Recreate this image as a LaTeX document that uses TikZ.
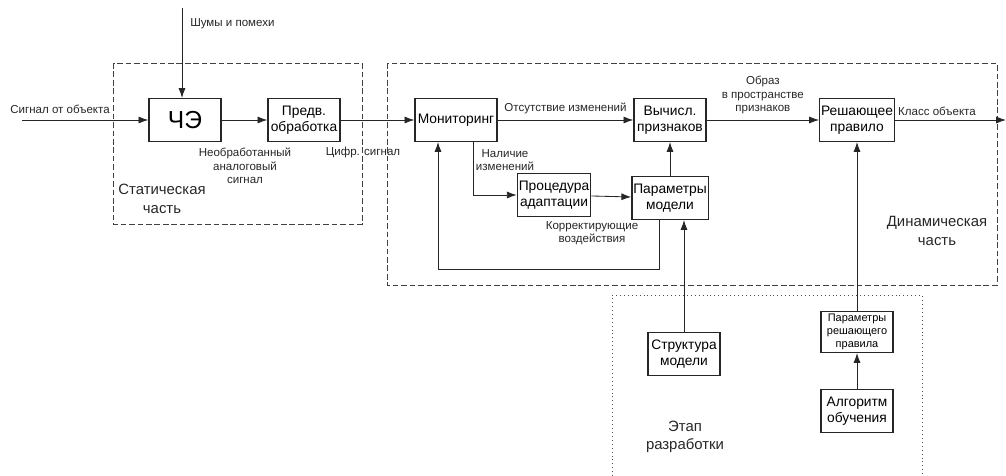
\documentclass[tikz,border=0pt]{standalone}
\usepackage{fontspec}
\setmainfont{Liberation Sans}
\usetikzlibrary{arrows.meta,positioning}

\begin{document}
\begin{tikzpicture}[x=0.025cm, y=-0.025cm,
    block/.style={draw=black!85, line width=0.9pt, align=center, inner sep=1pt,
        minimum width=1.8cm, minimum height=1.07cm, font=\fontsize{9.8}{11.5}\selectfont},
    lbl/.style={align=center, inner sep=0pt, text=black!85, font=\fontsize{8.2}{9.6}\selectfont},
    part/.style={align=center, inner sep=0pt, text=black!85, font=\fontsize{10.6}{13}\selectfont},
    sig/.style={-{Latex[length=7pt,width=5pt]}, line width=0.6pt, draw=black!85},
    zone/.style={draw=black!75, line width=0.6pt, dash pattern=on 4pt off 2pt}
]
\useasboundingbox (0,0) rectangle (1006,475);

% Zones
\draw[zone] (113,63) rectangle (362,224);
\draw[zone] (387,63) rectangle (997,285);
\draw[draw=black!70, line width=0.6pt, dash pattern=on 0.6pt off 2.2pt]
    (612,480) |- (922,295) -- (922,480);

% Blocks
\node[block] (che) at (185,120) {\fontsize{17.5}{20}\selectfont ЧЭ};
\node[block] (pre) at (304,120) {Предв.\\обработка};
\node[block, minimum width=2.05cm] (mon) at (456,120) {Мониторинг};
\node[block] (calc) at (670,120) {Вычисл.\\признаков};
\node[block] (adapt) at (554,195) {Процедура\\адаптации};
\node[block] (param) at (670,198) {Параметры\\модели};
\node[block] (rule) at (857,120) {Решающее\\правило};
\node[block] (struct) at (684,354) {Структура\\модели};
\node[block, minimum height=1.02cm, font=\fontsize{7.8}{9}\selectfont] (rparam) at (857,332) {Параметры\\решающего\\правила};
\node[block] (algo) at (857,411) {Алгоритм\\обучения};

% Input and noise
\coordinate (src) at (22,120);
\coordinate (noise) at (182,8);
\draw[sig] (src) -- (che);
\node[lbl] (srclbl) at (60,109) {Сигнал от объекта};
\draw[sig] (noise) -- (noise |- che.north);
\node[lbl, anchor=west] (noiselbl) at (190,24) {Шумы и помехи};

% Static part
\draw[sig] (che) -- (pre);
\node[lbl] (rawlbl) at (245,166) {Необработанный\\аналоговый\\сигнал};
\draw[sig] (pre) -- (mon);
\node[lbl] (diglbl) at (363,153) {Цифр. сигнал};

% Dynamic part
\draw[sig] (mon) -- node[lbl, above=4pt] {Отсутствие изменений} (calc);
\draw[sig] ([xshift=0.425cm]mon.south) |- (adapt);
\node[lbl] (chglbl) at (505,160) {Наличие\\изменений};
\draw[sig] (adapt) -- (param);
\node[lbl] (corlbl) at (592,233) {Корректирующие\\воздействия};
\draw[sig] (param) -- (calc);
\draw[sig] ([xshift=-0.275cm]param.south) -- ++(0,49) -| ([xshift=-0.45cm]mon.south);
\draw[sig] (calc) -- node[lbl, above=4pt] {Образ\\в пространстве\\признаков} (rule);
\coordinate (out) at (1006,120);
\draw[sig] (rule) -- (out);
\node[lbl] (outlbl) at (937,111) {Класс объекта};

% Development stage
\draw[sig] (struct) -- (struct |- param.south);
\draw[sig] (rparam) -- (rule);
\draw[sig] (algo) -- (rparam);

% Zone labels
\node[part] (statlbl) at (162,199) {Статическая\\часть};
\node[part] (dynlbl) at (937,231) {Динамическая\\часть};
\node[part] (devlbl) at (685,437) {Этап\\разработки};

\end{tikzpicture}
\end{document}
